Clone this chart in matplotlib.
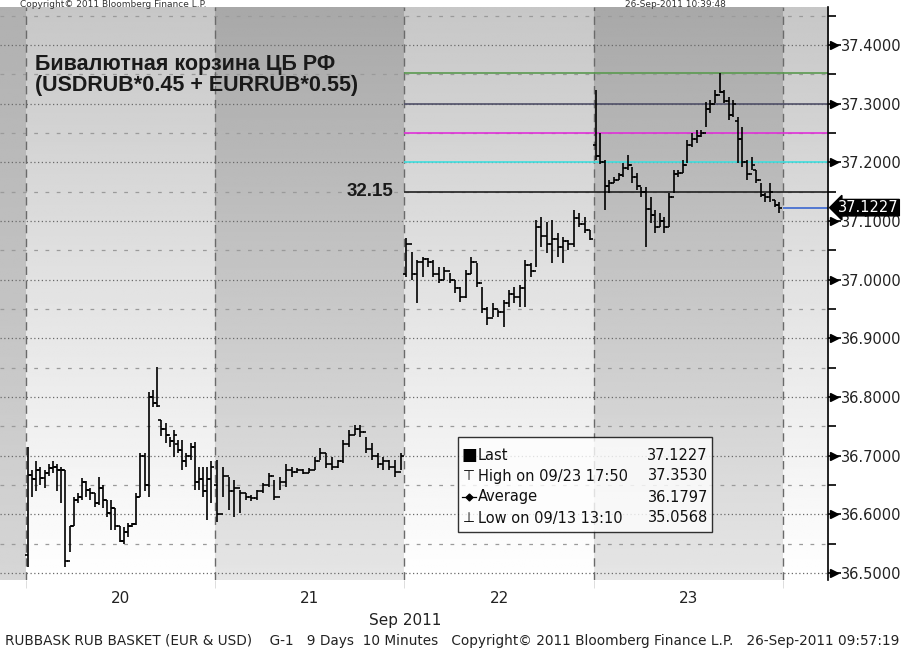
import numpy as np
import matplotlib
matplotlib.use("Agg")
import matplotlib.pyplot as plt
from matplotlib.patches import Rectangle
from matplotlib.lines import Line2D

plt.rcParams['font.family'] = ['DejaVu Sans']

# ---- data: 10-minute OHLC bars, per trading day (high, low, open, close) ----
day20_high = [36.715, 36.676, 36.690, 36.680, 36.676, 36.685, 36.690, 36.685, 36.681, 36.676,
              36.580, 36.630, 36.637, 36.662, 36.657, 36.645, 36.637, 36.664, 36.650, 36.625,
              36.625, 36.610, 36.580, 36.579, 36.585, 36.586, 36.637, 36.705, 36.705, 36.809,
              36.812, 36.851, 36.761, 36.756, 36.732, 36.744, 36.727, 36.727, 36.705, 36.722,
              36.724, 36.681, 36.681, 36.681, 36.690]
day20_low = [36.511, 36.630, 36.640, 36.650, 36.645, 36.665, 36.670, 36.640, 36.620, 36.511,
             36.536, 36.580, 36.620, 36.625, 36.630, 36.625, 36.613, 36.615, 36.610, 36.596,
             36.574, 36.574, 36.552, 36.549, 36.562, 36.579, 36.582, 36.630, 36.640, 36.630,
             36.783, 36.783, 36.733, 36.722, 36.715, 36.698, 36.705, 36.676, 36.681, 36.693,
             36.642, 36.642, 36.630, 36.591, 36.620]
day20_open = [36.531, 36.667, 36.660, 36.676, 36.662, 36.671, 36.679, 36.681, 36.676, 36.676,
              36.520, 36.580, 36.625, 36.630, 36.655, 36.642, 36.637, 36.620, 36.645, 36.625,
              36.603, 36.610, 36.580, 36.555, 36.570, 36.580, 36.584, 36.630, 36.700, 36.650,
              36.800, 36.790, 36.761, 36.745, 36.735, 36.725, 36.720, 36.710, 36.690, 36.700,
              36.715, 36.655, 36.660, 36.640, 36.660]
day20_close = [36.667, 36.660, 36.676, 36.662, 36.671, 36.679, 36.681, 36.676, 36.676, 36.520,
               36.580, 36.625, 36.630, 36.655, 36.642, 36.637, 36.620, 36.645, 36.625, 36.603,
               36.610, 36.580, 36.555, 36.570, 36.580, 36.584, 36.630, 36.700, 36.650, 36.800,
               36.790, 36.785, 36.745, 36.735, 36.725, 36.735, 36.710, 36.690, 36.700, 36.715,
               36.655, 36.660, 36.640, 36.660, 36.680]

day21_high = [36.693, 36.681, 36.664, 36.659, 36.642, 36.637, 36.633, 36.642, 36.654, 36.671,
              36.659, 36.664, 36.685, 36.681, 36.679, 36.677, 36.679, 36.698, 36.713, 36.705,
              36.698, 36.693, 36.727, 36.744, 36.753, 36.753, 36.732, 36.722, 36.705, 36.698,
              36.693, 36.693, 36.705]
day21_low = [36.587, 36.630, 36.608, 36.596, 36.603, 36.625, 36.622, 36.625, 36.637, 36.647,
             36.625, 36.642, 36.647, 36.664, 36.671, 36.668, 36.671, 36.676, 36.693, 36.679,
             36.676, 36.679, 36.688, 36.715, 36.736, 36.732, 36.705, 36.693, 36.679, 36.676,
             36.676, 36.664, 36.676]
day21_open = [36.650, 36.600, 36.665, 36.640, 36.645, 36.637, 36.630, 36.628, 36.640, 36.650,
              36.665, 36.630, 36.655, 36.675, 36.672, 36.675, 36.670, 36.676, 36.690, 36.705,
              36.685, 36.680, 36.690, 36.720, 36.735, 36.745, 36.740, 36.712, 36.700, 36.685,
              36.690, 36.680, 36.672]
day21_close = [36.600, 36.665, 36.640, 36.645, 36.637, 36.630, 36.628, 36.640, 36.650, 36.665,
               36.630, 36.655, 36.675, 36.672, 36.675, 36.670, 36.676, 36.690, 36.705, 36.685,
               36.680, 36.690, 36.720, 36.735, 36.745, 36.740, 36.712, 36.700, 36.685, 36.690,
               36.680, 36.672, 36.700]

day22_high = [37.071, 37.047, 37.034, 37.039, 37.037, 37.034, 37.022, 37.022, 37.012, 37.000,
              36.988, 37.017, 37.039, 37.029, 36.988, 36.954, 36.960, 36.949, 36.966, 36.983,
              36.988, 36.991, 37.034, 37.029, 37.102, 37.107, 37.099, 37.102, 37.080, 37.073,
              37.068, 37.119, 37.114, 37.107, 37.085]
day22_low = [37.005, 37.000, 36.960, 37.005, 37.022, 37.005, 36.995, 37.000, 36.995, 36.978,
             36.962, 36.969, 37.010, 36.988, 36.943, 36.923, 36.937, 36.937, 36.920, 36.954,
             36.960, 36.954, 36.954, 37.005, 37.022, 37.056, 37.046, 37.029, 37.039, 37.029,
             37.051, 37.056, 37.090, 37.080, 37.068]
day22_open = [37.010, 37.060, 37.010, 37.030, 37.035, 37.030, 37.010, 37.000, 37.015, 37.000,
              36.985, 36.970, 37.010, 37.030, 36.995, 36.950, 36.935, 36.950, 36.945, 36.960,
              36.975, 36.970, 36.985, 37.025, 37.015, 37.090, 37.075, 37.060, 37.070, 37.055,
              37.065, 37.060, 37.105, 37.095, 37.085]
day22_close = [37.060, 37.010, 37.030, 37.035, 37.030, 37.010, 37.000, 37.015, 37.000, 36.985,
               36.970, 37.010, 37.030, 36.995, 36.950, 36.935, 36.950, 36.945, 36.960, 36.975,
               36.970, 36.985, 37.025, 37.015, 37.090, 37.075, 37.060, 37.070, 37.055, 37.065,
               37.060, 37.105, 37.095, 37.085, 37.070]

day23_high = [37.323, 37.250, 37.204, 37.170, 37.175, 37.182, 37.199, 37.213, 37.192, 37.182,
              37.158, 37.158, 37.141, 37.119, 37.114, 37.107, 37.148, 37.187, 37.187, 37.204,
              37.238, 37.250, 37.255, 37.255, 37.303, 37.306, 37.323, 37.353, 37.323, 37.311,
              37.306, 37.277, 37.260, 37.204, 37.209, 37.187, 37.165, 37.148, 37.165, 37.136,
              37.133]
day23_low = [37.204, 37.197, 37.119, 37.148, 37.165, 37.170, 37.175, 37.187, 37.165, 37.153,
             37.141, 37.056, 37.097, 37.080, 37.090, 37.080, 37.090, 37.148, 37.175, 37.182,
             37.199, 37.226, 37.233, 37.243, 37.260, 37.284, 37.301, 37.318, 37.301, 37.272,
             37.277, 37.199, 37.192, 37.170, 37.187, 37.165, 37.141, 37.133, 37.133, 37.124,
             37.114]
day23_open = [37.230, 37.210, 37.200, 37.160, 37.165, 37.170, 37.178, 37.190, 37.195, 37.175,
              37.160, 37.150, 37.120, 37.110, 37.090, 37.100, 37.090, 37.140, 37.180, 37.182,
              37.195, 37.230, 37.240, 37.245, 37.250, 37.290, 37.300, 37.315, 37.320, 37.305,
              37.280, 37.270, 37.240, 37.200, 37.180, 37.187, 37.170, 37.145, 37.140, 37.135,
              37.128]
day23_close = [37.210, 37.200, 37.160, 37.165, 37.170, 37.178, 37.190, 37.195, 37.175, 37.160,
               37.150, 37.120, 37.110, 37.090, 37.100, 37.090, 37.140, 37.180, 37.182, 37.195,
               37.230, 37.240, 37.245, 37.250, 37.290, 37.300, 37.315, 37.320, 37.305, 37.280,
               37.300, 37.240, 37.200, 37.180, 37.195, 37.170, 37.145, 37.140, 37.150, 37.128,
               37.1227]

days = [20, 21, 22, 23]
day_labels = ["20", "21", "22", "23"]
last_price = 37.1227
level_lines = [37.353, 37.30, 37.25, 37.20, 37.15]
level_colors = ["#5a9a50", "#505068", "#e030d8", "#40dede", "#202020"]
y_ticks = [36.5, 36.6, 36.7, 36.8, 36.9, 37.0, 37.1, 37.2, 37.3, 37.4]
y_minor = [36.55, 36.65, 36.75, 36.85, 36.95, 37.05, 37.15, 37.25, 37.35, 37.45]
legend_rows = [("Last", "37.1227"), ("High on 09/23 17:50", "37.3530"),
               ("Average", "36.1797"), ("Low on 09/13 13:10", "35.0568")]

W, H = 905, 650
fig = plt.figure(figsize=(W / 100, H / 100), dpi=100)
fig.patch.set_facecolor("white")
ax = fig.add_axes([0, 1 - 580 / H, 828 / W, 573 / H])
x0, x1 = 19.363, 23.738
y0, y1 = 36.488, 37.4647
ax.set_xlim(x0, x1)
ax.set_ylim(y0, y1)

# shaded day backgrounds (vertical gradients)
segments = [(x0, 19.5, 0.69, 0.84), (19.5, 20.5, 0.78, 1.0), (20.5, 21.5, 0.66, 0.90),
            (21.5, 22.5, 0.78, 1.0), (22.5, 23.5, 0.66, 0.90), (23.5, x1, 0.78, 1.0)]
for a, b, top, bot in segments:
    grad = np.linspace(top, bot, 256).reshape(-1, 1)
    ax.imshow(grad, cmap="gray", vmin=0, vmax=1, extent=[a, b, y0, y1],
              aspect="auto", origin="upper", zorder=0, interpolation="bilinear")

# grid
for y in y_ticks:
    ax.axhline(y, color="#6a6a6a", lw=0.9, ls=(0, (1, 2)), zorder=1)
for y in y_minor:
    ax.axhline(y, color="#9a9a9a", lw=0.9, ls=(0, (3, 6)), zorder=1)
for d in days + [24]:
    ax.axvline(d - 0.5, color="#6a6a6a", lw=1.0, ls=(0, (6, 4)), zorder=1)

# reference levels
for lv, c in zip(level_lines, level_colors):
    ax.hlines(lv, 21.5, x1, color=c, lw=1.2, zorder=2)
ax.hlines(last_price, 23.5, x1, color="#3a66d0", lw=1.2, zorder=2)
ax.text(21.44, 37.15, "32.15", ha="right", va="center", fontsize=13.5,
        fontweight="bold", family="Liberation Sans", color="#1a1a1a", zorder=3)

# OHLC bars
all_days = [(day20_high, day20_low, day20_open, day20_close),
            (day21_high, day21_low, day21_open, day21_close),
            (day22_high, day22_low, day22_open, day22_close),
            (day23_high, day23_low, day23_open, day23_close)]
tick = 0.016
for d, (hi, lo, op, cl) in zip(days, all_days):
    xs = np.linspace(d - 0.49, d + 0.48, len(hi))
    ax.vlines(xs, lo, hi, color="black", lw=1.2, zorder=4)
    ax.hlines(op, xs - tick, xs, color="black", lw=1.2, zorder=4)
    ax.hlines(cl, xs, xs + tick, color="black", lw=1.2, zorder=4)

# axes styling
for s in ["left", "top", "bottom"]:
    ax.spines[s].set_visible(False)
ax.spines["right"].set_color("black")
ax.spines["right"].set_linewidth(1.2)
ax.yaxis.tick_right()
ax.set_yticks(y_ticks)
ax.set_yticklabels(["%.4f" % v for v in y_ticks], fontsize=10.5, color="#222222")
ax.set_yticks(y_minor, minor=True)
ax.tick_params(axis="y", which="major", length=9, width=1.2, pad=0.5, colors="black")
ax.tick_params(axis="y", which="minor", length=6, width=1.2, colors="black")
for lab in ax.get_yticklabels():
    lab.set_color("#222222")
ax.plot([1 + 6 / 828] * len(y_ticks), y_ticks, ls="none", marker=">", ms=5.5,
        color="black", transform=ax.get_yaxis_transform(), clip_on=False, zorder=5)

ax.set_xticks(days)
ax.set_xticklabels(day_labels, fontsize=11, color="#222222")
ax.set_xticks([d - 0.5 for d in days + [24]], minor=True)
ax.tick_params(axis="x", which="major", length=0, pad=8)
ax.tick_params(axis="x", which="minor", length=6, color="#d8d8d8")

# last-price tag
ax.text(1 + 10 / 828, last_price, "37.1227", transform=ax.get_yaxis_transform(),
        ha="left", va="center", fontsize=10.5, color="white", zorder=6, clip_on=False,
        bbox=dict(boxstyle="larrow,pad=0.05", fc="black", ec="black"))

# title inside chart
ax.text(35 / 828, 1 - 47 / 573, "Бивалютная корзина ЦБ РФ\n(USDRUB*0.45 + EURRUB*0.55)",
        transform=ax.transAxes, ha="left", va="top", fontsize=15.5, fontweight="bold",
        family="Liberation Sans", color="#1a1a1a", linespacing=1.0, zorder=3)

# legend box
def fx(px):
    return px / W

def fy(py):
    return 1 - py / H

fig.patches.append(Rectangle((fx(458), fy(532)), fx(712) - fx(458), fy(437) - fy(532),
                             transform=fig.transFigure, fc="white", alpha=0.8,
                             ec="black", lw=1.0, zorder=7))
row_y = [455, 476, 497, 518]
for (lab, val), py in zip(legend_rows, row_y):
    fig.text(fx(478), fy(py), lab, ha="left", va="center", fontsize=10.5, color="#111111", zorder=8)
    fig.text(fx(708), fy(py), val, ha="right", va="center", fontsize=10.5, color="#111111", zorder=8)
fig.text(fx(469), fy(row_y[0]), "■", ha="center", va="center", fontsize=12, color="black", zorder=8)
fig.text(fx(469), fy(row_y[1]), "⊤", ha="center", va="center", fontsize=10, color="black", zorder=8)
fig.text(fx(469), fy(row_y[3]), "⊥", ha="center", va="center", fontsize=10, color="black", zorder=8)
fig.add_artist(Line2D([fx(462), fx(476)], [fy(row_y[2])] * 2, color="black", lw=0.9,
                      transform=fig.transFigure, zorder=8))
fig.add_artist(Line2D([fx(469)], [fy(row_y[2])], color="black", marker="D", ms=3.5,
                      ls="none", transform=fig.transFigure, zorder=8))

# surrounding text
fig.text(fx(405), fy(621), "Sep 2011", ha="center", va="center", fontsize=11, color="#222222")
fig.text(fx(5), fy(641), "RUBBASK RUB BASKET (EUR & USD)    G-1   9 Days  10 Minutes   "
         "Copyright© 2011 Bloomberg Finance L.P.   26-Sep-2011 09:57:19",
         ha="left", va="center", fontsize=9.8, color="#222222")
fig.text(fx(20), fy(0), "Copyright© 2011 Bloomberg Finance L.P.", ha="left", va="top",
         fontsize=6.5, color="#333333")
fig.text(fx(625), fy(0), "26-Sep-2011 10:39:48", ha="left", va="top",
         fontsize=6.5, color="#333333")

fig.savefig("out.png", dpi=100)
